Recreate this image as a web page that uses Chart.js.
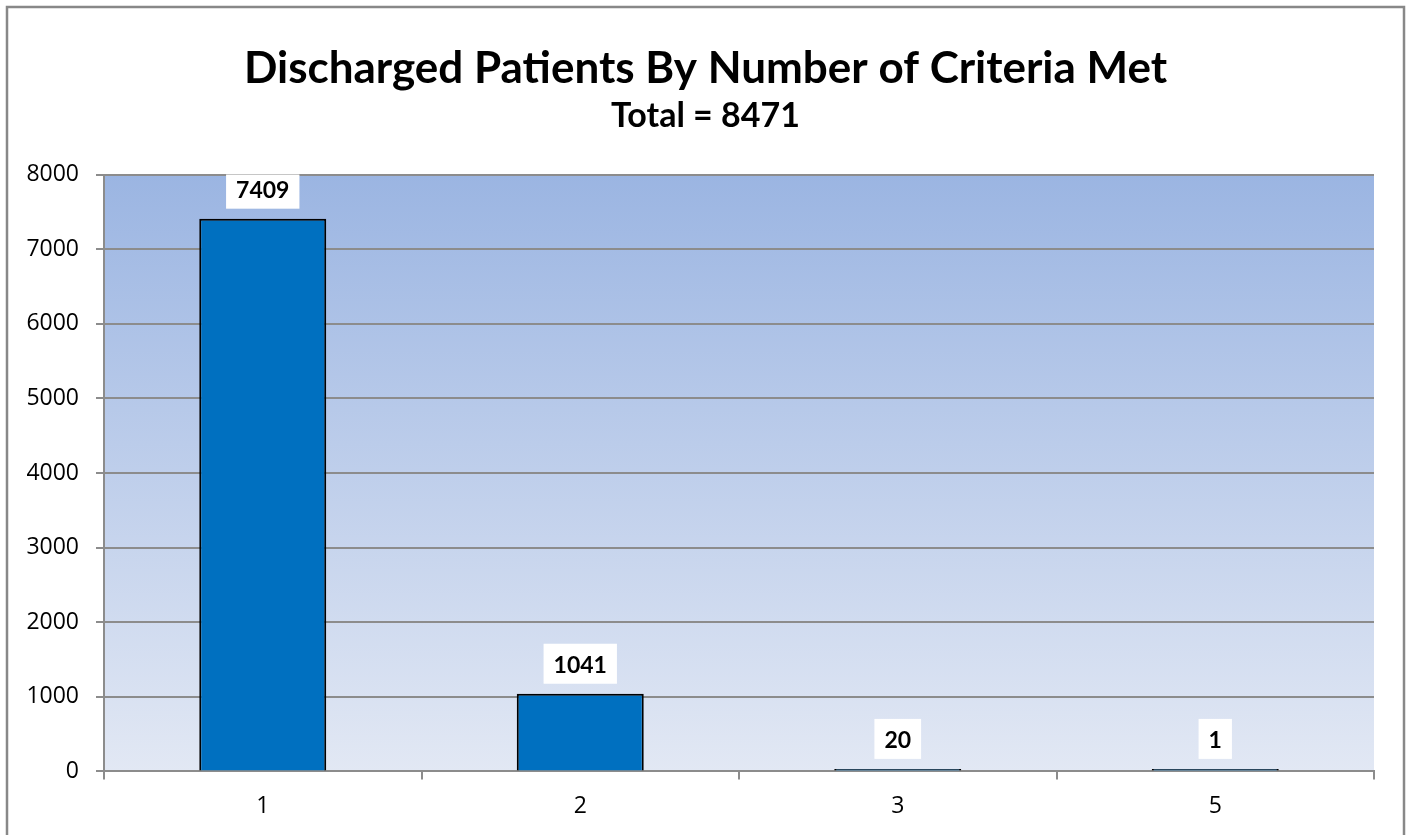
<!DOCTYPE html>
<html>
<head>
<meta charset="utf-8">
<title>Discharged Patients By Number of Criteria Met</title>
<script src="https://cdn.jsdelivr.net/npm/chart.js@4.4.1/dist/chart.umd.min.js"></script>
<style>
  html, body { margin: 0; padding: 0; background: #ffffff; }
  #wrap { position: relative; width: 1411px; height: 835px; }
</style>
</head>
<body>
<div id="wrap"><canvas id="chart"></canvas></div>
<script>
// data
const categories = ["1", "2", "3", "5"];
const patients = [7409, 1041, 20, 1];
const yMin = 0;
const yMax = 8000;
const yStep = 1000;
const chartTitle = "Discharged Patients By Number of Criteria Met";
const chartSubtitle = "Total = 8471";

const gridGray = "#8c8c8c";
Chart.defaults.font.family = "Lato, 'Open Sans', sans-serif";
Chart.defaults.color = "#000000";

// white page, grey outer frame and the blue gradient behind the plot
const framePlugin = {
  id: "frame",
  beforeDraw(chart) {
    const { ctx, chartArea: a, width, height } = chart;
    ctx.save();
    ctx.fillStyle = "#ffffff";
    ctx.fillRect(0, 0, width, height);
    ctx.strokeStyle = "#888888";
    ctx.lineWidth = 2.5;
    ctx.strokeRect(7, 7, width - 14, height + 20);
    const g = ctx.createLinearGradient(0, a.top, 0, a.bottom);
    g.addColorStop(0, "#9bb5e2");
    g.addColorStop(1, "#e2e8f4");
    ctx.fillStyle = g;
    ctx.fillRect(a.left, a.top, a.right - a.left, a.bottom - a.top);
    ctx.restore();
  },
};

// value boxes above each bar
const valueLabels = {
  id: "valueLabels",
  afterDatasetsDraw(chart) {
    const { ctx, chartArea: a } = chart;
    const meta = chart.getDatasetMeta(0);
    ctx.save();
    ctx.beginPath();
    ctx.rect(a.left, a.top, a.right - a.left, a.bottom - a.top);
    ctx.clip();
    ctx.font = "bold 23px Lato, 'Open Sans', sans-serif";
    ctx.textAlign = "center";
    ctx.textBaseline = "middle";
    meta.data.forEach((bar, i) => {
      const text = String(patients[i]);
      const w = ctx.measureText(text).width + 20;
      const h = 40;
      const bottom = bar.y - 10;
      ctx.fillStyle = "#ffffff";
      ctx.fillRect(bar.x - w / 2, bottom - h, w, h);
      ctx.fillStyle = "#000000";
      ctx.fillText(text, bar.x, bottom - h / 2 + 2);
    });
    ctx.restore();
  },
};

new Chart(document.getElementById("chart"), {
  type: "bar",
  data: {
    labels: categories,
    datasets: [
      {
        data: patients,
        backgroundColor: "#0070c0",
        borderColor: "#000000",
        borderWidth: 2,
        minBarLength: 2.5,
        barPercentage: 0.4,
        categoryPercentage: 1,
      },
    ],
  },
  options: {
    responsive: true,
    maintainAspectRatio: false,
    animation: false,
    layout: {
      padding: { left: 0, right: 0, top: 0, bottom: 2 },
    },
    plugins: {
      legend: { display: false },
      tooltip: { enabled: false },
      title: {
        display: true,
        text: chartTitle,
        font: { size: 44, weight: "bold" },
        padding: { top: 42, bottom: 0 },
      },
      subtitle: {
        display: true,
        text: chartSubtitle,
        font: { size: 34, weight: "bold" },
        color: "#000000",
        padding: { top: 1, bottom: 38 },
      },
    },
    scales: {
      x: {
        grid: {
          offset: true,
          drawOnChartArea: false,
          drawTicks: true,
          tickLength: 8,
          tickColor: gridGray,
          lineWidth: 2,
        },
        border: { display: true, color: gridGray, width: 2 },
        ticks: {
          font: { family: "'Open Sans', sans-serif", size: 23 },
          padding: 13,
          color: "#000000",
        },
      },
      y: {
        min: yMin,
        max: yMax,
        afterFit(scale) {
          scale.width = 104;
        },
        grid: {
          color: gridGray,
          lineWidth: 2,
          drawTicks: true,
          tickLength: 8,
          tickColor: gridGray,
        },
        border: { display: true, color: gridGray, width: 2 },
        ticks: {
          stepSize: yStep,
          callback: (v) => String(v),
          font: { family: "'Open Sans', sans-serif", size: 23 },
          padding: 17,
          color: "#000000",
        },
      },
      // empty right-hand margin so the titles stay centred on the page
      margin: {
        position: "right",
        display: true,
        afterFit(scale) {
          scale.width = 37;
        },
        grid: { display: false },
        border: { display: false },
        ticks: { display: false },
      },
    },
  },
  plugins: [framePlugin, valueLabels],
});
</script>
</body>
</html>
